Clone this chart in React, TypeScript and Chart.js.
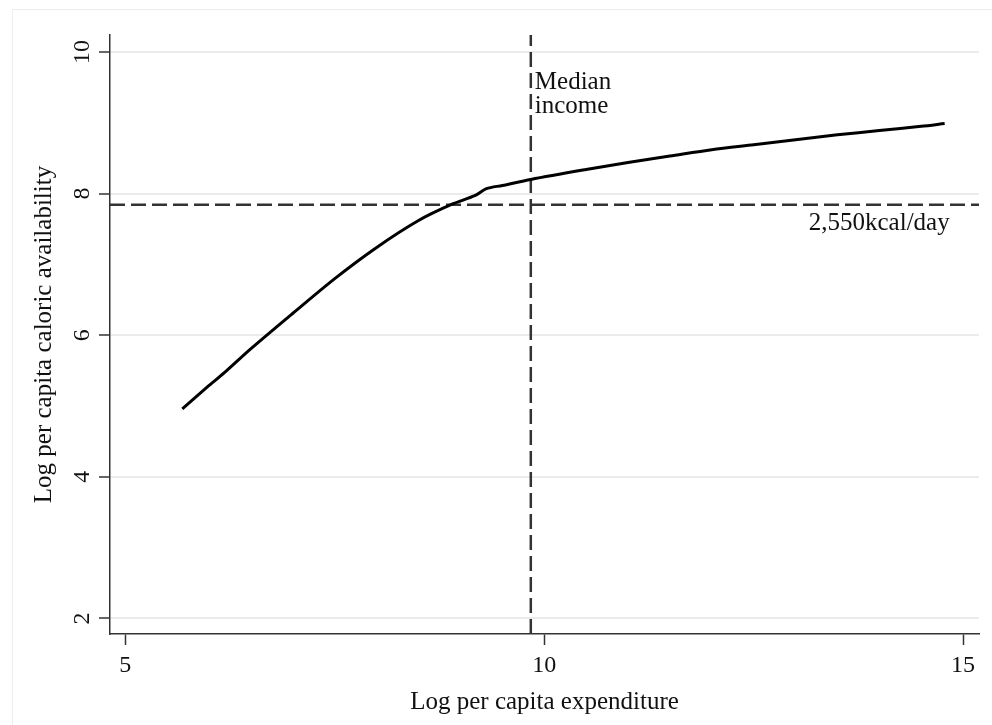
import React, { useEffect, useRef } from "react";
import { Chart, registerables } from "chart.js";

Chart.register(...registerables);

// Data
const expenditure = [5.68, 6.0, 6.21, 6.5, 7.0, 7.5, 8.0, 8.5, 8.9, 9.17, 9.31, 9.5, 9.84, 10.5, 11.0, 11.5, 12.0, 12.5, 13.0, 13.5, 14.0, 14.5, 14.78];
const caloric = [4.96, 5.29, 5.5, 5.81, 6.31, 6.8, 7.24, 7.62, 7.85, 7.97, 8.07, 8.115, 8.2, 8.34, 8.44, 8.53, 8.62, 8.69, 8.76, 8.83, 8.89, 8.95, 8.99];

const xTicks = [5, 10, 15];
const yTicks = [2, 4, 6, 8, 10];
const xRange = [4.817, 15.19];
const yRange = [1.78, 10.24];

const medianIncome = 9.84;
const caloricThreshold = 7.844;
const medianLabel = ["Median", "income"];
const medianLabelY = 9.48;
const kcalLabel = "2,550kcal/day";
const kcalLabelX = 14.84;
const kcalLabelY = 7.48;

const xTitle = "Log per capita expenditure";
const yTitle = "Log per capita caloric availability";

const FONT = '"Liberation Serif", "Times New Roman", serif';

export default function App() {
  const ref = useRef<HTMLCanvasElement | null>(null);

  useEffect(() => {
    document.body.style.margin = "0";
    const canvas = ref.current;
    if (!canvas) return;

    const framePlugin = {
      id: "frame",
      beforeDraw(chart: any) {
        const { ctx } = chart;
        ctx.save();
        ctx.fillStyle = "#ffffff";
        ctx.fillRect(0, 0, chart.width, chart.height);
        ctx.strokeStyle = "#ededed";
        ctx.lineWidth = 1;
        ctx.strokeRect(12.5, 9.5, 2000, 2000);
        ctx.restore();
      },
    };

    const annotPlugin = {
      id: "annot",
      afterDatasetsDraw(chart: any) {
        const { ctx } = chart;
        const x = chart.scales.x;
        const y = chart.scales.y;
        ctx.save();
        ctx.font = `25px ${FONT}`;
        ctx.fillStyle = "#111111";
        ctx.textBaseline = "alphabetic";
        ctx.textAlign = "left";
        const mx = x.getPixelForValue(medianIncome) + 4;
        const my = y.getPixelForValue(medianLabelY);
        medianLabel.forEach((t, i) => ctx.fillText(t, mx, my + i * 24.5));
        ctx.textAlign = "right";
        ctx.fillText(kcalLabel, x.getPixelForValue(kcalLabelX), y.getPixelForValue(kcalLabelY));
        ctx.restore();
      },
    };

    const chart = new Chart(canvas, {
      type: "scatter",
      data: {
        datasets: [
          {
            data: expenditure.map((v, i) => ({ x: v, y: caloric[i] })),
            showLine: true,
            borderColor: "#000000",
            borderWidth: 3,
            pointRadius: 0,
            tension: 0.3,
          },
          {
            data: [
              { x: xRange[0], y: caloricThreshold },
              { x: xRange[1], y: caloricThreshold },
            ],
            showLine: true,
            borderColor: "#333333",
            borderWidth: 2.5,
            borderDash: [15, 6],
            pointRadius: 0,
          },
          {
            data: [
              { x: medianIncome, y: yRange[0] },
              { x: medianIncome, y: yRange[1] },
            ],
            showLine: true,
            borderColor: "#333333",
            borderWidth: 2.5,
            borderDash: [15, 6],
            pointRadius: 0,
          },
        ],
      },
      options: {
        animation: false,
        responsive: false,
        devicePixelRatio: 1,
        layout: { padding: { top: 35, right: 13, left: 0, bottom: 0 } },
        plugins: { legend: { display: false }, tooltip: { enabled: false } },
        scales: {
          x: {
            type: "linear",
            position: "bottom",
            min: xRange[0],
            max: xRange[1],
            afterBuildTicks: (s: any) => {
              s.ticks = xTicks.map((v) => ({ value: v }));
            },
            afterFit: (s: any) => {
              s.height = 91;
            },
            grid: {
              display: true,
              drawOnChartArea: false,
              drawTicks: true,
              tickLength: 11,
              tickColor: "#333333",
              tickWidth: 1.5,
            },
            border: { display: true, color: "#333333", width: 1.5 },
            ticks: {
              font: { family: FONT, size: 24 },
              color: "#111111",
              padding: 6,
              maxRotation: 0,
              minRotation: 0,
            },
            title: {
              display: true,
              text: xTitle,
              font: { family: FONT, size: 25 },
              color: "#111111",
              padding: { top: 0, bottom: 8 },
            },
          },
          y: {
            type: "linear",
            min: yRange[0],
            max: yRange[1],
            afterBuildTicks: (s: any) => {
              s.ticks = yTicks.map((v) => ({ value: v }));
            },
            afterFit: (s: any) => {
              s.width = 110;
            },
            grid: {
              display: true,
              color: "#ebebeb",
              lineWidth: 2,
              drawTicks: true,
              tickLength: 11,
              tickColor: "#333333",
              tickWidth: 1.5,
            },
            border: { display: true, color: "#333333", width: 1.5 },
            ticks: {
              font: { family: FONT, size: 24 },
              color: "#111111",
              padding: 4,
              minRotation: 90,
              maxRotation: 90,
              crossAlign: "center",
            },
            title: {
              display: true,
              text: yTitle,
              font: { family: FONT, size: 25 },
              color: "#111111",
              padding: { top: 29, bottom: 0 },
            },
          },
        },
      },
      plugins: [framePlugin, annotPlugin],
    } as any);

    return () => chart.destroy();
  }, []);

  return (
    <div style={{ width: 992, height: 725 }}>
      <canvas ref={ref} width={992} height={725} style={{ display: "block" }} />
    </div>
  );
}
